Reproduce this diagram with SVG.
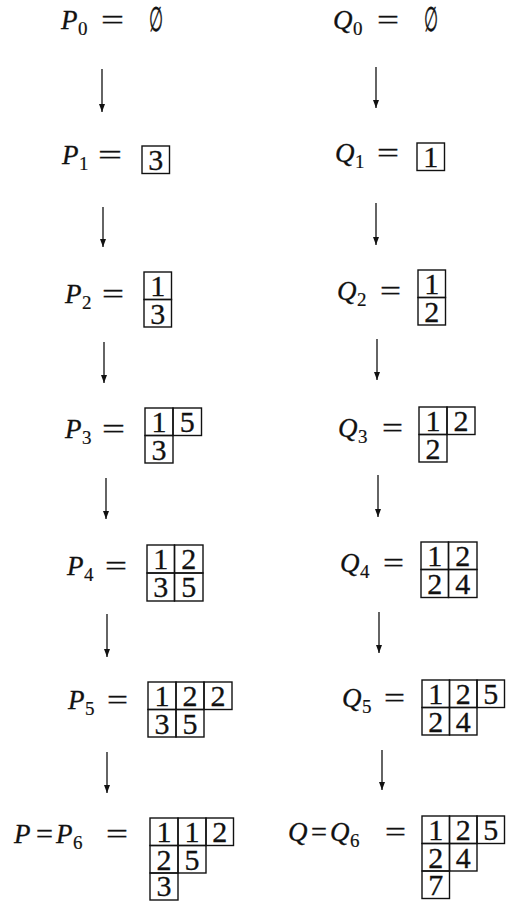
<svg xmlns="http://www.w3.org/2000/svg" width="506" height="901" viewBox="0 0 506 901">
<defs>
<marker id="ah" viewBox="0 0 8 6" refX="8" refY="3" markerWidth="8" markerHeight="6" orient="auto" markerUnits="userSpaceOnUse"><path d="M0,0 L8,3 L0,6 z" fill="#111"/></marker>
</defs>
<style>
.v{font-family:"Liberation Serif",serif;font-style:italic;font-size:27px;fill:#111;stroke:#111;stroke-width:0.3}
.s{font-family:"Liberation Serif",serif;font-size:19px;fill:#111;stroke:#111;stroke-width:0.2}
.e{font-family:"Liberation Serif",serif;font-size:27px;fill:#111;stroke:#111;stroke-width:0.3}
.n{font-family:"Liberation Serif",serif;font-size:30px;fill:#111;text-anchor:middle;stroke:#111;stroke-width:0.3}
.o{font-family:"DejaVu Sans",sans-serif;font-size:34px;fill:#111;stroke:#111;stroke-width:0.6}
.c{fill:none;stroke:#111;stroke-width:1.4}
.a{stroke:#111;stroke-width:1.3;fill:none;marker-end:url(#ah)}
</style>
<rect width="506" height="901" fill="#fff"/>
<g id="connectors">
<line class="a" x1="102" y1="69" x2="102" y2="112"/>
<line class="a" x1="376" y1="67" x2="376" y2="108"/>
<line class="a" x1="103" y1="207" x2="103" y2="247"/>
<line class="a" x1="376" y1="203" x2="376" y2="245"/>
<line class="a" x1="104" y1="342" x2="104" y2="383"/>
<line class="a" x1="377" y1="339" x2="377" y2="380"/>
<line class="a" x1="106" y1="478" x2="106" y2="519"/>
<line class="a" x1="378" y1="475" x2="378" y2="517"/>
<line class="a" x1="107" y1="614" x2="107" y2="657"/>
<line class="a" x1="379" y1="612" x2="379" y2="653"/>
<line class="a" x1="107" y1="752" x2="107" y2="793"/>
<line class="a" x1="382" y1="750" x2="382" y2="790"/>
</g>
<g id="p0">
<text class="v" x="61" y="29">P</text><text class="s" x="78" y="35">0</text>
<text class="e" x="101" y="29" textLength="23" lengthAdjust="spacingAndGlyphs">=</text>
<text class="o" x="149" y="31" textLength="14" lengthAdjust="spacingAndGlyphs">∅</text>
</g>
<g id="q0">
<text class="v" x="333" y="29">Q</text><text class="s" x="353" y="35">0</text>
<text class="e" x="377" y="29" textLength="22" lengthAdjust="spacingAndGlyphs">=</text>
<text class="o" x="424" y="31" textLength="14" lengthAdjust="spacingAndGlyphs">∅</text>
</g>
<g id="p1">
<text class="v" x="62" y="164">P</text><text class="s" x="79" y="170">1</text>
<text class="e" x="98" y="164" textLength="24" lengthAdjust="spacingAndGlyphs">=</text>
<rect class="c" x="142" y="146" width="27.5" height="27.5"/>
<text class="n" x="155.75" y="170">3</text>
</g>
<g id="q1">
<text class="v" x="335" y="162">Q</text><text class="s" x="355" y="168">1</text>
<text class="e" x="377" y="162" textLength="22" lengthAdjust="spacingAndGlyphs">=</text>
<rect class="c" x="417" y="143" width="27.5" height="27.5"/>
<text class="n" x="430.75" y="167">1</text>
</g>
<g id="p2">
<text class="v" x="65" y="303">P</text><text class="s" x="82" y="309">2</text>
<text class="e" x="102" y="303" textLength="22" lengthAdjust="spacingAndGlyphs">=</text>
<rect class="c" x="144" y="272" width="27.5" height="27.5"/>
<rect class="c" x="144" y="299.5" width="27.5" height="27.5"/>
<text class="n" x="157.75" y="296">1</text>
<text class="n" x="157.75" y="323.5">3</text>
</g>
<g id="q2">
<text class="v" x="337" y="300">Q</text><text class="s" x="357" y="306">2</text>
<text class="e" x="380" y="300" textLength="21" lengthAdjust="spacingAndGlyphs">=</text>
<rect class="c" x="418" y="270" width="27.5" height="27.5"/>
<rect class="c" x="418" y="297.5" width="27.5" height="27.5"/>
<text class="n" x="431.75" y="294">1</text>
<text class="n" x="431.75" y="321.5">2</text>
</g>
<g id="p3">
<text class="v" x="65" y="438">P</text><text class="s" x="82" y="444">3</text>
<text class="e" x="102" y="438" textLength="23" lengthAdjust="spacingAndGlyphs">=</text>
<rect class="c" x="145" y="408" width="28" height="27.5"/>
<rect class="c" x="173" y="408" width="28.5" height="27.5"/>
<rect class="c" x="145" y="435.5" width="28" height="27.5"/>
<text class="n" x="159" y="432">1</text>
<text class="n" x="187.25" y="432">5</text>
<text class="n" x="159" y="459.5">3</text>
</g>
<g id="q3">
<text class="v" x="338" y="437">Q</text><text class="s" x="358" y="443">3</text>
<text class="e" x="382" y="437" textLength="21" lengthAdjust="spacingAndGlyphs">=</text>
<rect class="c" x="419" y="407" width="28" height="27.5"/>
<rect class="c" x="447" y="407" width="28" height="27.5"/>
<rect class="c" x="419" y="434.5" width="28" height="27.5"/>
<text class="n" x="433" y="431">1</text>
<text class="n" x="461" y="431">2</text>
<text class="n" x="433" y="458.5">2</text>
</g>
<g id="p4">
<text class="v" x="67" y="575">P</text><text class="s" x="84" y="581">4</text>
<text class="e" x="105" y="575" textLength="22" lengthAdjust="spacingAndGlyphs">=</text>
<rect class="c" x="147" y="545" width="27.5" height="28"/>
<rect class="c" x="174.5" y="545" width="28.5" height="28"/>
<rect class="c" x="147" y="573" width="27.5" height="28"/>
<rect class="c" x="174.5" y="573" width="28.5" height="28"/>
<text class="n" x="160.75" y="569">1</text>
<text class="n" x="188.75" y="569">2</text>
<text class="n" x="160.75" y="597">3</text>
<text class="n" x="188.75" y="597">5</text>
</g>
<g id="q4">
<text class="v" x="340" y="572">Q</text><text class="s" x="360" y="578">4</text>
<text class="e" x="383" y="572" textLength="21" lengthAdjust="spacingAndGlyphs">=</text>
<rect class="c" x="421" y="542" width="27.5" height="27.5"/>
<rect class="c" x="448.5" y="542" width="28.5" height="27.5"/>
<rect class="c" x="421" y="569.5" width="27.5" height="28"/>
<rect class="c" x="448.5" y="569.5" width="28.5" height="28"/>
<text class="n" x="434.75" y="566">1</text>
<text class="n" x="462.75" y="566">2</text>
<text class="n" x="434.75" y="593.5">2</text>
<text class="n" x="462.75" y="593.5">4</text>
</g>
<g id="p5">
<text class="v" x="68" y="709">P</text><text class="s" x="85" y="715">5</text>
<text class="e" x="107" y="709" textLength="21" lengthAdjust="spacingAndGlyphs">=</text>
<rect class="c" x="148" y="682" width="28" height="27.5"/>
<rect class="c" x="176" y="682" width="28" height="27.5"/>
<rect class="c" x="204" y="682" width="28" height="27.5"/>
<rect class="c" x="148" y="709.5" width="28" height="27.5"/>
<rect class="c" x="176" y="709.5" width="28" height="27.5"/>
<text class="n" x="162" y="706">1</text>
<text class="n" x="190" y="706">2</text>
<text class="n" x="218" y="706">2</text>
<text class="n" x="162" y="733.5">3</text>
<text class="n" x="190" y="733.5">5</text>
</g>
<g id="q5">
<text class="v" x="342" y="707">Q</text><text class="s" x="362" y="713">5</text>
<text class="e" x="384" y="707" textLength="21" lengthAdjust="spacingAndGlyphs">=</text>
<rect class="c" x="422" y="680" width="27.5" height="27.5"/>
<rect class="c" x="449.5" y="680" width="27.5" height="27.5"/>
<rect class="c" x="477" y="680" width="27.5" height="27.5"/>
<rect class="c" x="422" y="707.5" width="27.5" height="27.5"/>
<rect class="c" x="449.5" y="707.5" width="27.5" height="27.5"/>
<text class="n" x="435.75" y="704">1</text>
<text class="n" x="463.25" y="704">2</text>
<text class="n" x="490.75" y="704">5</text>
<text class="n" x="435.75" y="731.5">2</text>
<text class="n" x="463.25" y="731.5">4</text>
</g>
<g id="p6">
<text class="v" x="14" y="843">P</text>
<text class="e" x="36" y="843" textLength="17" lengthAdjust="spacingAndGlyphs">=</text>
<text class="v" x="56" y="843">P</text><text class="s" x="73" y="849">6</text>
<text class="e" x="106" y="843" textLength="22" lengthAdjust="spacingAndGlyphs">=</text>
<rect class="c" x="150" y="818" width="28" height="27.5"/>
<rect class="c" x="178" y="818" width="28" height="27.5"/>
<rect class="c" x="206" y="818" width="27.5" height="27.5"/>
<rect class="c" x="150" y="845.5" width="28" height="27.5"/>
<rect class="c" x="178" y="845.5" width="28" height="27.5"/>
<rect class="c" x="150" y="873" width="28" height="27"/>
<text class="n" x="164" y="842">1</text>
<text class="n" x="192" y="842">1</text>
<text class="n" x="219.75" y="842">2</text>
<text class="n" x="164" y="869.5">2</text>
<text class="n" x="192" y="869.5">5</text>
<text class="n" x="164" y="896">3</text>
</g>
<g id="q6">
<text class="v" x="288" y="841">Q</text>
<text class="e" x="311" y="841" textLength="16" lengthAdjust="spacingAndGlyphs">=</text>
<text class="v" x="330" y="841">Q</text><text class="s" x="350" y="847">6</text>
<text class="e" x="385" y="841" textLength="21" lengthAdjust="spacingAndGlyphs">=</text>
<rect class="c" x="422" y="816" width="27.5" height="27.5"/>
<rect class="c" x="449.5" y="816" width="27.5" height="27.5"/>
<rect class="c" x="477" y="816" width="27.5" height="27.5"/>
<rect class="c" x="422" y="843.5" width="27.5" height="27.5"/>
<rect class="c" x="449.5" y="843.5" width="27.5" height="27.5"/>
<rect class="c" x="422" y="871" width="27.5" height="27.5"/>
<text class="n" x="435.75" y="840">1</text>
<text class="n" x="463.25" y="840">2</text>
<text class="n" x="490.75" y="840">5</text>
<text class="n" x="435.75" y="867.5">2</text>
<text class="n" x="463.25" y="867.5">4</text>
<text class="n" x="435.75" y="895">7</text>
</g>
</svg>
